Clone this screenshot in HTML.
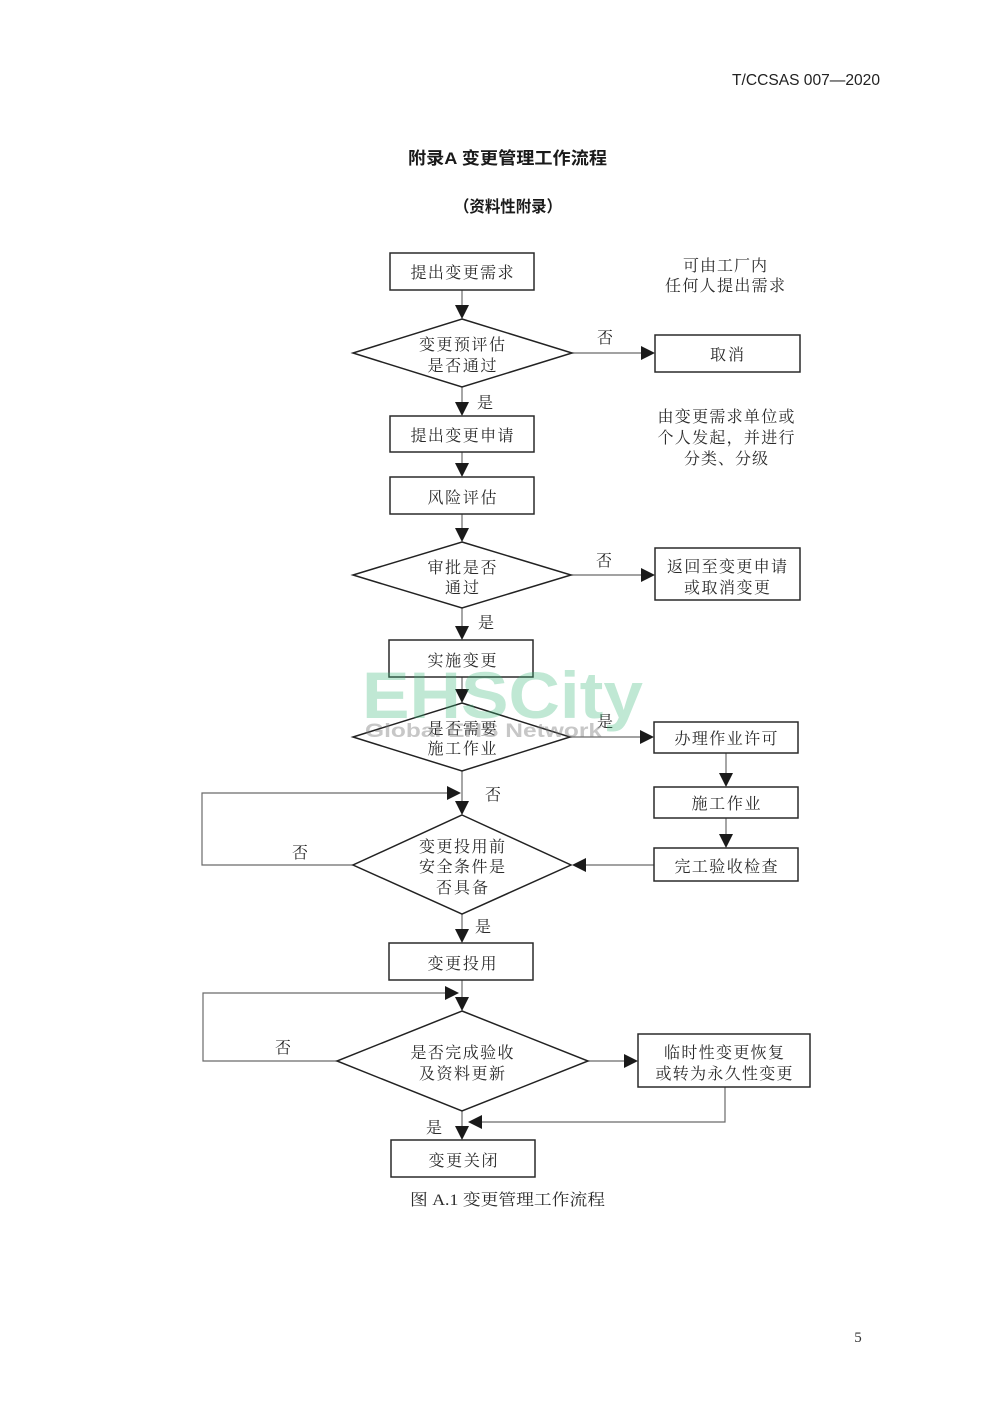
<!DOCTYPE html>
<html>
<head>
<meta charset="utf-8">
<style>
  html,body{margin:0;padding:0;background:#fff;}
  svg{display:block;}
  .s{font-family:"Liberation Serif","Noto Serif CJK SC",serif;font-size:16px;fill:#2a2a2a;}
  .h{font-family:"Liberation Sans","Noto Sans CJK SC",sans-serif;font-weight:bold;fill:#1a1a1a;}
  .box{fill:#fff;stroke:#2a2a2a;stroke-width:1.5;}
  .dia{fill:#fff;stroke:#222;stroke-width:1.5;}
  .ln{fill:none;stroke:#6a6a6a;stroke-width:1.2;}
  .ah{fill:#1a1a1a;}
</style>
</head>
<body>
<svg width="1000" height="1406" viewBox="0 0 1000 1406" xmlns="http://www.w3.org/2000/svg">
  <rect x="0" y="0" width="1000" height="1406" fill="#fff"/>

  <!-- header -->
  <text x="732" y="85" font-family="Liberation Sans, sans-serif" font-size="16" fill="#222" textLength="148" lengthAdjust="spacingAndGlyphs">T/CCSAS 007—2020</text>

  <!-- titles -->
  <text class="h" x="507.5" y="164" font-size="17" text-anchor="middle" textLength="199" lengthAdjust="spacingAndGlyphs">附录A 变更管理工作流程</text>
  <text class="h" x="508" y="212" font-size="16" text-anchor="middle" textLength="108" lengthAdjust="spacingAndGlyphs">（资料性附录）</text>

  <!-- connectors -->
  <g class="ln">
    <line x1="462" y1="290" x2="462" y2="306"/>
    <line x1="572" y1="353" x2="642" y2="353"/>
    <line x1="462" y1="387" x2="462" y2="403"/>
    <line x1="462" y1="452" x2="462" y2="464"/>
    <line x1="462" y1="514" x2="462" y2="529"/>
    <line x1="571" y1="575" x2="642" y2="575"/>
    <line x1="462" y1="608" x2="462" y2="627"/>
    <line x1="462" y1="677" x2="462" y2="690"/>
    <line x1="570" y1="737" x2="641" y2="737"/>
    <line x1="726" y1="753" x2="726" y2="774"/>
    <line x1="726" y1="818" x2="726" y2="835"/>
    <line x1="654" y1="865" x2="585" y2="865"/>
    <line x1="462" y1="771" x2="462" y2="802"/>
    <polyline points="353,865 202,865 202,793 448,793"/>
    <line x1="462" y1="914" x2="462" y2="930"/>
    <line x1="462" y1="980" x2="462" y2="998"/>
    <polyline points="337,1061 203,1061 203,993 446,993"/>
    <line x1="588" y1="1061" x2="625" y2="1061"/>
    <polyline points="725,1087 725,1122 482,1122"/>
    <line x1="462" y1="1111" x2="462" y2="1127"/>
  </g>

  <!-- arrowheads -->
  <g class="ah">
    <polygon points="455,305 469,305 462,319"/>
    <polygon points="641,346 641,360 655,353"/>
    <polygon points="455,402 469,402 462,416"/>
    <polygon points="455,463 469,463 462,477"/>
    <polygon points="455,528 469,528 462,542"/>
    <polygon points="641,568 641,582 655,575"/>
    <polygon points="455,626 469,626 462,640"/>
    <polygon points="455,689 469,689 462,703"/>
    <polygon points="640,730 640,744 654,737"/>
    <polygon points="719,773 733,773 726,787"/>
    <polygon points="719,834 733,834 726,848"/>
    <polygon points="586,858 586,872 572,865"/>
    <polygon points="455,801 469,801 462,815"/>
    <polygon points="447,786 447,800 461,793"/>
    <polygon points="455,929 469,929 462,943"/>
    <polygon points="455,997 469,997 462,1011"/>
    <polygon points="445,986 445,1000 459,993"/>
    <polygon points="624,1054 624,1068 638,1061"/>
    <polygon points="482,1115 482,1129 468,1122"/>
    <polygon points="455,1126 469,1126 462,1140"/>
  </g>

  <!-- nodes -->
  <rect class="box" x="390" y="253" width="144" height="37"/>
  <polygon class="dia" points="462,319 572,353 462,387 353,353"/>
  <rect class="box" x="655" y="335" width="145" height="37"/>
  <rect class="box" x="390" y="416" width="144" height="36"/>
  <rect class="box" x="390" y="477" width="144" height="37"/>
  <polygon class="dia" points="462,542 571,575 462,608 353,575"/>
  <rect class="box" x="655" y="548" width="145" height="52"/>
  <rect class="box" x="389" y="640" width="144" height="37"/>
  <polygon class="dia" points="462,703 570,737 462,771 353,737"/>
  <rect class="box" x="654" y="722" width="144" height="31"/>
  <rect class="box" x="654" y="787" width="144" height="31"/>
  <rect class="box" x="654" y="848" width="144" height="33"/>
  <polygon class="dia" points="462,815 571,865 462,914 353,865"/>
  <rect class="box" x="389" y="943" width="144" height="37"/>
  <polygon class="dia" points="462,1011 588,1061 462,1111 337,1061"/>
  <rect class="box" x="638" y="1034" width="172" height="53"/>
  <rect class="box" x="391" y="1140" width="144" height="37"/>

  <!-- node text -->
  <g class="s" text-anchor="middle">
    <text x="462" y="278" textLength="103">提出变更需求</text>
    <text x="462" y="350" textLength="86">变更预评估</text>
    <text x="462" y="371" textLength="69">是否通过</text>
    <text x="727" y="360" textLength="34">取消</text>
    <text x="462" y="441" textLength="103">提出变更申请</text>
    <text x="462" y="503" textLength="69">风险评估</text>
    <text x="462" y="573" textLength="69">审批是否</text>
    <text x="462" y="593" textLength="34">通过</text>
    <text x="727" y="572" textLength="120">返回至变更申请</text>
    <text x="727" y="593" textLength="86">或取消变更</text>
    <text x="462" y="666" textLength="69">实施变更</text>
    <text x="462" y="734" textLength="69">是否需要</text>
    <text x="462" y="754" textLength="69">施工作业</text>
    <text x="726" y="744" textLength="103">办理作业许可</text>
    <text x="726" y="809" textLength="69">施工作业</text>
    <text x="726" y="872" textLength="103">完工验收检查</text>
    <text x="462" y="852" textLength="86">变更投用前</text>
    <text x="462" y="872" textLength="86">安全条件是</text>
    <text x="462" y="893" textLength="52">否具备</text>
    <text x="462" y="969" textLength="69">变更投用</text>
    <text x="462" y="1058" textLength="103">是否完成验收</text>
    <text x="462" y="1079" textLength="86">及资料更新</text>
    <text x="724" y="1058" textLength="120">临时性变更恢复</text>
    <text x="724" y="1079" textLength="137">或转为永久性变更</text>
    <text x="463" y="1166" textLength="69">变更关闭</text>
  </g>

  <!-- connector labels -->
  <g class="s" text-anchor="middle">
    <text x="605" y="343">否</text>
    <text x="485" y="408">是</text>
    <text x="604" y="566">否</text>
    <text x="486" y="628">是</text>
    <text x="605" y="727">是</text>
    <text x="493" y="800">否</text>
    <text x="300" y="858">否</text>
    <text x="483" y="932">是</text>
    <text x="283" y="1053">否</text>
    <text x="434" y="1133">是</text>
  </g>

  <!-- notes -->
  <g class="s" text-anchor="middle" fill="#333">
    <text x="725" y="271" textLength="84">可由工厂内</text>
    <text x="725" y="291" textLength="120">任何人提出需求</text>
    <text x="726" y="422" textLength="137">由变更需求单位或</text>
    <text x="726" y="443" textLength="137">个人发起，并进行</text>
    <text x="726" y="464" textLength="84">分类、分级</text>
  </g>

  <!-- caption -->
  <text class="s" x="410" y="1205" textLength="195" lengthAdjust="spacingAndGlyphs">图 A.1  变更管理工作流程</text>
  <text x="858" y="1342" font-family="Liberation Serif, serif" font-size="15" fill="#333" text-anchor="middle">5</text>

  <!-- watermark -->
  <text x="362" y="718" font-family="Liberation Sans, sans-serif" font-weight="bold" font-size="66" fill="#3cb878" fill-opacity="0.32" textLength="281" lengthAdjust="spacingAndGlyphs">EHSCity</text>
  <text x="365" y="737" font-family="Liberation Sans, sans-serif" font-weight="bold" font-size="19" fill="#7a7a7a" fill-opacity="0.42" textLength="237" lengthAdjust="spacingAndGlyphs">Global EHS Network</text>
</svg>
</body>
</html>
